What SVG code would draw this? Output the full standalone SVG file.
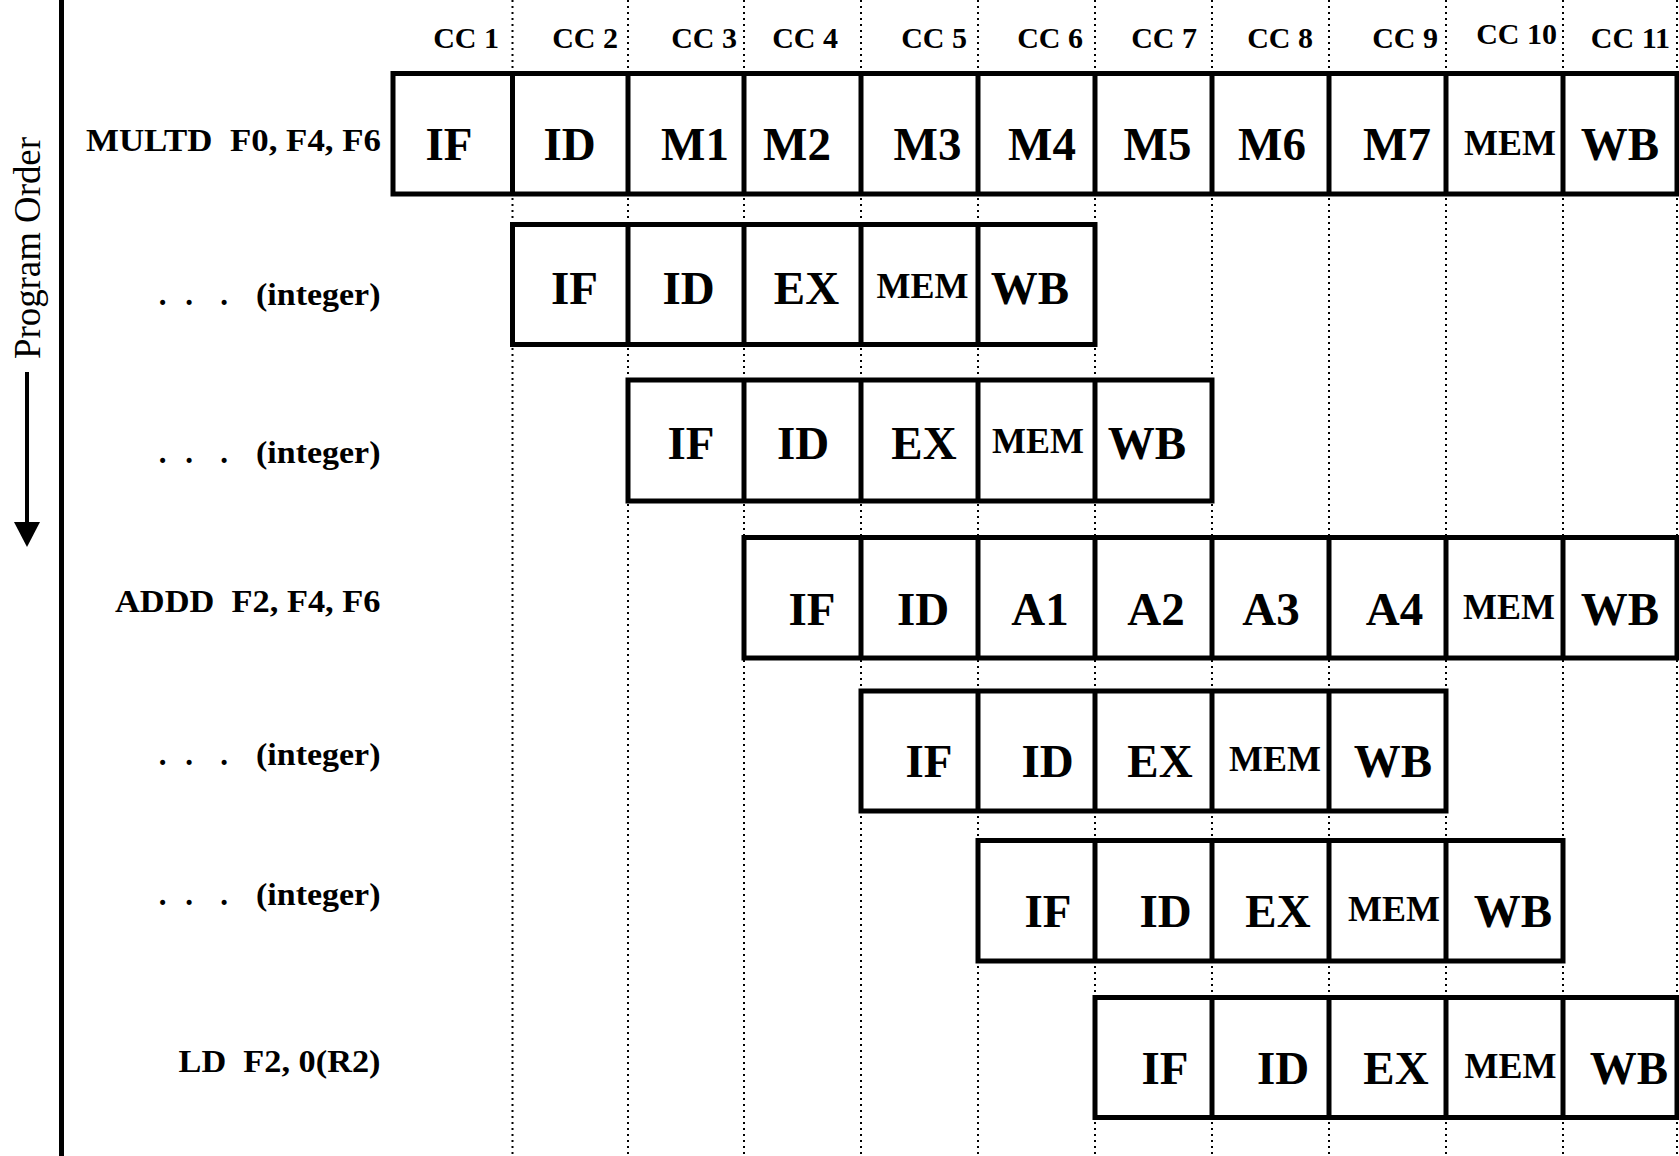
<svg xmlns="http://www.w3.org/2000/svg" width="1679" height="1156" viewBox="0 0 1679 1156">
<style>
  .bg{fill:#fff}
  .grid{stroke:#000;stroke-width:2;stroke-dasharray:2 4;fill:none}
  .box{fill:#fff;stroke:#000;stroke-width:5}
  .div{stroke:#000;stroke-width:5}
  .axis{stroke:#000;stroke-width:5}
  .arrow{stroke:#000;stroke-width:4;fill:none}
  text{font-family:"Liberation Serif","Times New Roman",serif;fill:#000}
  .st{font-weight:bold;font-size:47px;text-anchor:middle}
  .mem{font-weight:bold;font-size:36px;text-anchor:middle}
  .cc{font-weight:bold;font-size:30px;text-anchor:end}
  .lbl{font-weight:bold;font-size:31px;white-space:pre}
  .dot{font-weight:bold;font-size:31px;text-anchor:middle}
  .po{font-size:37.5px}
</style>
<defs>
  <marker id="head" viewBox="0 -13 25 26" markerWidth="25" markerHeight="26" refX="0" refY="0" orient="auto" markerUnits="userSpaceOnUse">
    <path d="M0,-13 L25,0 L0,13 Z" fill="#000"/>
  </marker>
</defs>
<rect class="bg" x="0" y="0" width="1679" height="1156"/>

<g id="grid">
  <line class="grid" x1="512.5" y1="0" x2="512.5" y2="1156"/>
  <line class="grid" x1="628" y1="0" x2="628" y2="1156"/>
  <line class="grid" x1="744" y1="0" x2="744" y2="1156"/>
  <line class="grid" x1="861" y1="0" x2="861" y2="1156"/>
  <line class="grid" x1="978" y1="0" x2="978" y2="1156"/>
  <line class="grid" x1="1095" y1="0" x2="1095" y2="1156"/>
  <line class="grid" x1="1212" y1="0" x2="1212" y2="1156"/>
  <line class="grid" x1="1329" y1="0" x2="1329" y2="1156"/>
  <line class="grid" x1="1446" y1="0" x2="1446" y2="1156"/>
  <line class="grid" x1="1563" y1="0" x2="1563" y2="1156"/>
  <line class="grid" x1="1677" y1="0" x2="1677" y2="1156"/>
</g>

<g id="cc-labels">
  <text class="cc" x="499" y="47.5">CC 1</text>
  <text class="cc" x="618" y="47.5">CC 2</text>
  <text class="cc" x="737" y="47.5">CC 3</text>
  <text class="cc" x="838" y="47.5">CC 4</text>
  <text class="cc" x="967" y="47.5">CC 5</text>
  <text class="cc" x="1083" y="47.5">CC 6</text>
  <text class="cc" x="1197" y="47.5">CC 7</text>
  <text class="cc" x="1313" y="47.5">CC 8</text>
  <text class="cc" x="1438" y="47.5">CC 9</text>
  <text class="cc" x="1557" y="43.5">CC 10</text>
  <text class="cc" x="1670" y="47.5">CC 11</text>
</g>

<g id="program-order">
  <line class="axis" x1="61.5" y1="0" x2="61.5" y2="1156"/>
  <text class="po" transform="translate(39.5,359) rotate(-90)" textLength="222" lengthAdjust="spacingAndGlyphs">Program Order</text>
</g>

<g id="connectors">
  <line class="arrow" x1="27" y1="372" x2="27" y2="522" marker-end="url(#head)"/>
</g>

<g id="row-multd">
  <text class="lbl" x="86" y="151" textLength="295" lengthAdjust="spacingAndGlyphs">MULTD  F0, F4, F6</text>
  <rect class="box" x="393" y="73.5" width="1284" height="120.5"/>
  <line class="div" x1="512.5" y1="73.5" x2="512.5" y2="194"/>
  <line class="div" x1="628" y1="73.5" x2="628" y2="194"/>
  <line class="div" x1="744" y1="73.5" x2="744" y2="194"/>
  <line class="div" x1="861" y1="73.5" x2="861" y2="194"/>
  <line class="div" x1="978" y1="73.5" x2="978" y2="194"/>
  <line class="div" x1="1095" y1="73.5" x2="1095" y2="194"/>
  <line class="div" x1="1212" y1="73.5" x2="1212" y2="194"/>
  <line class="div" x1="1329" y1="73.5" x2="1329" y2="194"/>
  <line class="div" x1="1446" y1="73.5" x2="1446" y2="194"/>
  <line class="div" x1="1563" y1="73.5" x2="1563" y2="194"/>
  <text class="st" x="449" y="160">IF</text>
  <text class="st" x="569.5" y="160">ID</text>
  <text class="st" x="695" y="160">M1</text>
  <text class="st" x="797" y="160">M2</text>
  <text class="st" x="927.5" y="160">M3</text>
  <text class="st" x="1042" y="160">M4</text>
  <text class="st" x="1157.5" y="160">M5</text>
  <text class="st" x="1272" y="160">M6</text>
  <text class="st" x="1397" y="160">M7</text>
  <text class="mem" x="1510" y="155">MEM</text>
  <text class="st" x="1620" y="160">WB</text>
</g>

<g id="row-int1">
  <text class="dot" x="162.5" y="305">.</text>
  <text class="dot" x="189" y="305">.</text>
  <text class="dot" x="224" y="305">.</text>
  <text class="lbl" x="256" y="305" textLength="124.5" lengthAdjust="spacingAndGlyphs">(integer)</text>
  <rect class="box" x="512.5" y="224.5" width="582.5" height="120"/>
  <line class="div" x1="628" y1="224.5" x2="628" y2="344.5"/>
  <line class="div" x1="744" y1="224.5" x2="744" y2="344.5"/>
  <line class="div" x1="861" y1="224.5" x2="861" y2="344.5"/>
  <line class="div" x1="978" y1="224.5" x2="978" y2="344.5"/>
  <text class="st" x="574.5" y="304">IF</text>
  <text class="st" x="688.5" y="304">ID</text>
  <text class="st" x="806.5" y="304">EX</text>
  <text class="mem" x="922.5" y="298">MEM</text>
  <text class="st" x="1030" y="304">WB</text>
</g>

<g id="row-int2">
  <text class="dot" x="162.5" y="463">.</text>
  <text class="dot" x="189" y="463">.</text>
  <text class="dot" x="224" y="463">.</text>
  <text class="lbl" x="256" y="463" textLength="124.5" lengthAdjust="spacingAndGlyphs">(integer)</text>
  <rect class="box" x="628" y="380" width="584" height="121"/>
  <line class="div" x1="744" y1="380" x2="744" y2="501"/>
  <line class="div" x1="861" y1="380" x2="861" y2="501"/>
  <line class="div" x1="978" y1="380" x2="978" y2="501"/>
  <line class="div" x1="1095" y1="380" x2="1095" y2="501"/>
  <text class="st" x="691" y="459">IF</text>
  <text class="st" x="803" y="459">ID</text>
  <text class="st" x="924" y="459">EX</text>
  <text class="mem" x="1038" y="453">MEM</text>
  <text class="st" x="1147" y="459">WB</text>
</g>

<g id="row-addd">
  <text class="lbl" x="115" y="611.5" textLength="265.5" lengthAdjust="spacingAndGlyphs">ADDD  F2, F4, F6</text>
  <rect class="box" x="744" y="537.5" width="933" height="120.5"/>
  <line class="div" x1="861" y1="537.5" x2="861" y2="658"/>
  <line class="div" x1="978" y1="537.5" x2="978" y2="658"/>
  <line class="div" x1="1095" y1="537.5" x2="1095" y2="658"/>
  <line class="div" x1="1212" y1="537.5" x2="1212" y2="658"/>
  <line class="div" x1="1329" y1="537.5" x2="1329" y2="658"/>
  <line class="div" x1="1446" y1="537.5" x2="1446" y2="658"/>
  <line class="div" x1="1563" y1="537.5" x2="1563" y2="658"/>
  <text class="st" x="812" y="625">IF</text>
  <text class="st" x="923" y="625">ID</text>
  <text class="st" x="1040" y="625">A1</text>
  <text class="st" x="1156" y="625">A2</text>
  <text class="st" x="1271" y="625">A3</text>
  <text class="st" x="1394.5" y="625">A4</text>
  <text class="mem" x="1509" y="619">MEM</text>
  <text class="st" x="1620" y="625">WB</text>
</g>

<g id="row-int3">
  <text class="dot" x="162.5" y="765">.</text>
  <text class="dot" x="189" y="765">.</text>
  <text class="dot" x="224" y="765">.</text>
  <text class="lbl" x="256" y="765" textLength="124.5" lengthAdjust="spacingAndGlyphs">(integer)</text>
  <rect class="box" x="861" y="691" width="585" height="120"/>
  <line class="div" x1="978" y1="691" x2="978" y2="811"/>
  <line class="div" x1="1095" y1="691" x2="1095" y2="811"/>
  <line class="div" x1="1212" y1="691" x2="1212" y2="811"/>
  <line class="div" x1="1329" y1="691" x2="1329" y2="811"/>
  <text class="st" x="929" y="777">IF</text>
  <text class="st" x="1047.5" y="777">ID</text>
  <text class="st" x="1160" y="777">EX</text>
  <text class="mem" x="1275" y="771">MEM</text>
  <text class="st" x="1393" y="777">WB</text>
</g>

<g id="row-int4">
  <text class="dot" x="162.5" y="905">.</text>
  <text class="dot" x="189" y="905">.</text>
  <text class="dot" x="224" y="905">.</text>
  <text class="lbl" x="256" y="905" textLength="124.5" lengthAdjust="spacingAndGlyphs">(integer)</text>
  <rect class="box" x="978" y="840.5" width="585" height="120.5"/>
  <line class="div" x1="1095" y1="840.5" x2="1095" y2="961"/>
  <line class="div" x1="1212" y1="840.5" x2="1212" y2="961"/>
  <line class="div" x1="1329" y1="840.5" x2="1329" y2="961"/>
  <line class="div" x1="1446" y1="840.5" x2="1446" y2="961"/>
  <text class="st" x="1048" y="927">IF</text>
  <text class="st" x="1165.5" y="927">ID</text>
  <text class="st" x="1278" y="927">EX</text>
  <text class="mem" x="1394" y="921">MEM</text>
  <text class="st" x="1513" y="927">WB</text>
</g>

<g id="row-ld">
  <text class="lbl" x="178.5" y="1072" textLength="202" lengthAdjust="spacingAndGlyphs">LD  F2, 0(R2)</text>
  <rect class="box" x="1095" y="997.5" width="582" height="120"/>
  <line class="div" x1="1212" y1="997.5" x2="1212" y2="1117.5"/>
  <line class="div" x1="1329" y1="997.5" x2="1329" y2="1117.5"/>
  <line class="div" x1="1446" y1="997.5" x2="1446" y2="1117.5"/>
  <line class="div" x1="1563" y1="997.5" x2="1563" y2="1117.5"/>
  <text class="st" x="1165" y="1084">IF</text>
  <text class="st" x="1283" y="1084">ID</text>
  <text class="st" x="1396" y="1084">EX</text>
  <text class="mem" x="1510.5" y="1078">MEM</text>
  <text class="st" x="1629" y="1084">WB</text>
</g>
</svg>
